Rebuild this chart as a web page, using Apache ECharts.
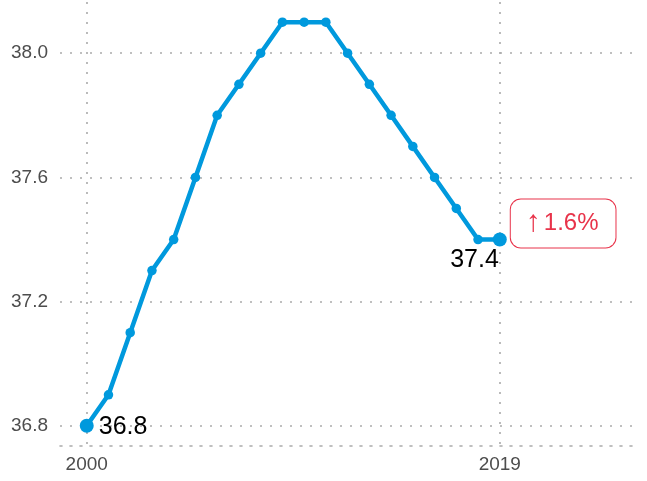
<!DOCTYPE html>
<html><head><meta charset="utf-8">
<script src="https://cdn.jsdelivr.net/npm/echarts@6/dist/echarts.min.js"></script>
<style>html,body{margin:0;padding:0;background:#fff}#c{width:647px;height:481px}</style>
</head><body><div id="c"></div>
<script>
const years = [2000,2001,2002,2003,2004,2005,2006,2007,2008,2009,2010,2011,2012,2013,2014,2015,2016,2017,2018,2019];
const values = [36.8,36.9,37.1,37.3,37.4,37.6,37.8,37.9,38.0,38.1,38.1,38.1,38.0,37.9,37.8,37.7,37.6,37.5,37.4,37.4];
const xTicks = [2000, 2019];
const yTicks = [36.8, 37.2, 37.6, 38.0];
const changeArrow = '↑';
const changeText = '1.6%';

const lineColor = '#0099DD';
const gridStyle = {color: '#aaaaaa', width: 1.6, type: [2, 8]};
const pts = years.map((y, i) => [y, values[i]]);
const n = pts.length;

const chart = echarts.init(document.getElementById('c'));
chart.setOption({
  animation: false,
  textStyle: {fontFamily: 'Liberation Sans, Arial, sans-serif'},
  grid: {left: 60, right: 7, top: 2, bottom: 35},
  xAxis: {
    type: 'value', min: 1998.77, max: 2025.45,
    axisLine: {show: true, lineStyle: gridStyle},
    axisTick: {show: false, customValues: xTicks},
    axisLabel: {customValues: xTicks, color: '#4d4d4d', fontSize: 19, margin: 9, formatter: v => String(v)},
    splitLine: {show: true, lineStyle: gridStyle}
  },
  yAxis: {
    type: 'value', min: 36.735, max: 38.165,
    axisLine: {show: false},
    axisTick: {show: false, customValues: yTicks},
    axisLabel: {customValues: yTicks, color: '#4d4d4d', fontSize: 19, margin: 12, formatter: v => v.toFixed(1)},
    splitLine: {show: true, lineStyle: gridStyle}
  },
  series: [
    {
      type: 'line', data: pts, symbol: 'circle', symbolSize: 9.5,
      itemStyle: {color: lineColor, opacity: 1}, lineStyle: {color: lineColor, width: 4.5}, z: 3
    },
    {
      type: 'scatter', symbolSize: 14, itemStyle: {color: lineColor, opacity: 1}, z: 4,
      data: [
        {value: pts[0], label: {show: true, position: 'right', distance: 5, offset: [0, 1],
          formatter: values[0].toFixed(1), fontSize: 25, color: '#000'}},
        {value: pts[n-1], label: {show: true, position: 'left', distance: 0, offset: [6, 21],
          formatter: values[n-1].toFixed(1), fontSize: 25, color: '#000'}}
      ]
    },
    {
      type: 'scatter', symbolSize: 14, itemStyle: {color: 'rgba(0,0,0,0)', opacity: 1}, z: 5, silent: true,
      data: [
        {value: pts[n-1], label: {show: true, position: 'right', distance: 4, offset: [0, -16],
          formatter: '{a|' + changeArrow + '}{b|' + changeText + '}',
          rich: {
            a: {fontSize: 30, color: '#E8334A', padding: [0, 3, 2, 0], fontFamily: 'Liberation Sans'},
            b: {fontSize: 24, color: '#E8334A'}
          },
          borderColor: '#E8334A', borderWidth: 1, borderRadius: 10,
          padding: [8, 17, 8, 15], backgroundColor: '#fff'}}
      ]
    }
  ]
});
</script></body></html>
